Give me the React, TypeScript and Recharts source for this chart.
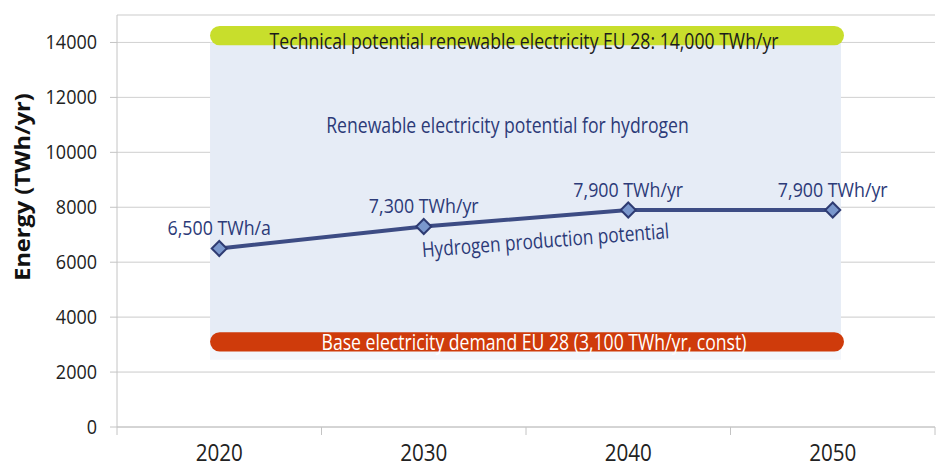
import React from 'react';
import {
  ComposedChart,
  Line,
  XAxis,
  YAxis,
  CartesianGrid,
  ReferenceArea,
  ReferenceDot,
  LabelList,
} from 'recharts';

// ---- data ----
const years = [2020, 2030, 2040, 2050];
const hydrogenPotential = [6500, 7300, 7900, 7900];
const pointLabels = ['6,500 TWh/a', '7,300 TWh/yr', '7,900 TWh/yr', '7,900 TWh/yr'];
const yTicks = [0, 2000, 4000, 6000, 8000, 10000, 12000, 14000];
const xTicks = [2015, 2020, 2025, 2030, 2035, 2040, 2045, 2050, 2055];
const labelledYears = [2020, 2030, 2040, 2050];

const technicalPotential = 14000;
const technicalBand = [13900, 14600];
const baseDemand = 3100;
const baseBand = [2750, 3450];
const spanYears = [2019.55, 2050.4];
const technicalText = 'Technical potential renewable electricity EU 28: 14,000 TWh/yr';
const renewableText = 'Renewable electricity potential for hydrogen';
const baseText = 'Base electricity demand EU 28 (3,100 TWh/yr, const)';
const hydrogenText = 'Hydrogen production potential';
const hydrogenTextAt = { year: 2035.98, value: 6530 };
const yAxisTitle = 'Energy (TWh/yr)';

const data = years.map((year, i) => ({
  year,
  value: hydrogenPotential[i],
  label: pointLabels[i],
}));

const FONT = "'Open Sans', sans-serif";
const NAVY = '#2c3a78';

type CTProps = {
  x: number;
  y: number;
  text: string | number;
  size: number;
  fill: string;
  scale?: number;
  angle?: number;
  anchor?: 'start' | 'middle' | 'end';
  weight?: string;
};

const CondensedText = ({ x, y, text, size, fill, scale = 0.84, angle = 0, anchor = 'middle', weight = 'normal' }: CTProps) => (
  <text
    transform={`translate(${x},${y}) rotate(${angle}) scale(${scale},1)`}
    textAnchor={anchor}
    fontFamily={FONT}
    fontSize={size}
    fontWeight={weight}
    fill={fill}
  >
    {text}
  </text>
);

const XTick = (props: any) => {
  const { x, y, payload } = props;
  if (labelledYears.includes(payload.value)) {
    return <CondensedText x={x} y={y + 34} text={payload.value} size={24} fill="#222" scale={0.86} />;
  }
  return <line x1={x} y1={y} x2={x} y2={y + 8} stroke="#c4c4c4" strokeWidth={1} />;
};

const YTick = (props: any) => {
  const { x, y, payload } = props;
  return <CondensedText x={x} y={y + 7} text={payload.value} size={20} fill="#222" scale={0.9} anchor="end" />;
};

const Diamond = (props: any) => {
  const { cx, cy } = props;
  if (cx == null || cy == null) return null;
  const r = 7.5;
  return (
    <polygon
      points={`${cx},${cy - r} ${cx + r},${cy} ${cx},${cy + r} ${cx - r},${cy}`}
      fill="#7a97cc"
      stroke="#2e3b72"
      strokeWidth={2}
    />
  );
};

const RoundedRect = (fill: string) => (props: any) => {
  const { x, y, width, height } = props;
  return <rect x={x} y={y} width={width} height={height} rx={height / 2} ry={height / 2} fill={fill} />;
};

export default function App() {
  return (
    <div style={{ position: 'absolute', left: 0, top: 0, width: 944, height: 468, background: '#fff' }}>
      <ComposedChart
        width={944}
        height={468}
        data={data}
        margin={{ top: 15, right: 9, bottom: 0, left: 0 }}
      >
        <CartesianGrid horizontal vertical={false} stroke="#d4d4d4" />
        <XAxis
          dataKey="year"
          type="number"
          domain={[2015, 2055]}
          ticks={xTicks}
          interval={0}
          height={41}
          tickSize={0}
          tickMargin={0}
          tickLine={false}
          axisLine={{ stroke: '#c4c4c4' }}
          tick={<XTick />}
        />
        <YAxis
          type="number"
          domain={[0, 15000]}
          ticks={yTicks}
          interval={0}
          width={117}
          tickSize={7}
          tickMargin={13}
          axisLine={{ stroke: '#c4c4c4' }}
          tickLine={{ stroke: '#c4c4c4' }}
          tick={<YTick />}
          label={{
            content: () => (
              <text
                transform="translate(30, 187) rotate(-90) scale(1.07,1)"
                textAnchor="middle"
                fontFamily={FONT}
                fontWeight="bold"
                fontSize={22}
                fill="#111"
              >
                {yAxisTitle}
              </text>
            ),
          }}
        />
        <ReferenceArea
          x1={spanYears[0]}
          x2={spanYears[1]}
          y1={2450}
          y2={baseDemand}
          fill="#f3f6fb"
          fillOpacity={1}
          stroke="none"
        />
        <ReferenceArea
          x1={spanYears[0]}
          x2={spanYears[1]}
          y1={baseDemand}
          y2={technicalPotential}
          fill="#e6ecf6"
          fillOpacity={1}
          stroke="none"
          label={{
            content: (p: any) => {
              const vb = p.viewBox;
              return (
                <CondensedText x={vb.x + vb.width / 2 - 18} y={vb.y + 91} text={renewableText} size={21} fill={NAVY} />
              );
            },
          }}
        />
        <CartesianGrid horizontal vertical={false} stroke="#d4d4d4" strokeOpacity={0.45} />
        <ReferenceArea
          x1={spanYears[0]}
          x2={spanYears[1] + 0.15}
          y1={technicalBand[0]}
          y2={technicalBand[1]}
          fillOpacity={1}
          shape={RoundedRect('#c8de2c')}
          label={{
            content: (p: any) => {
              const vb = p.viewBox;
              return (
                <CondensedText
                  x={vb.x + vb.width / 2 - 3}
                  y={vb.y + vb.height / 2 + 13}
                  text={technicalText}
                  size={21}
                  fill="#1c1c1c"
                />
              );
            },
          }}
        />
        <ReferenceArea
          x1={spanYears[0]}
          x2={spanYears[1] + 0.15}
          y1={baseBand[0]}
          y2={baseBand[1]}
          fillOpacity={1}
          shape={RoundedRect('#cf3b0b')}
          label={{
            content: (p: any) => {
              const vb = p.viewBox;
              return (
                <CondensedText
                  x={vb.x + vb.width / 2 + 7}
                  y={vb.y + vb.height / 2 + 8}
                  text={baseText}
                  size={21}
                  fill="#ffffff"
                />
              );
            },
          }}
        />
        <ReferenceDot
          x={hydrogenTextAt.year}
          y={hydrogenTextAt.value}
          r={0}
          fill="none"
          stroke="none"
          label={{
            content: (p: any) => {
              const vb = p.viewBox;
              const cx = vb.x + (vb.width || 0) / 2;
              const cy = vb.y + (vb.height || 0) / 2;
              return <CondensedText x={cx} y={cy} text={hydrogenText} size={21} fill={NAVY} angle={-4.4} scale={0.82} />;
            },
          }}
        />
        <Line
          dataKey="value"
          stroke="#3d4c84"
          strokeWidth={4}
          dot={<Diamond />}
          activeDot={false}
          isAnimationActive={false}
        >
          <LabelList
            dataKey="label"
            content={(p: any) => (
              <CondensedText x={p.x} y={p.y - 13} text={p.value} size={20} fill={NAVY} scale={0.89} />
            )}
          />
        </Line>
      </ComposedChart>
    </div>
  );
}
